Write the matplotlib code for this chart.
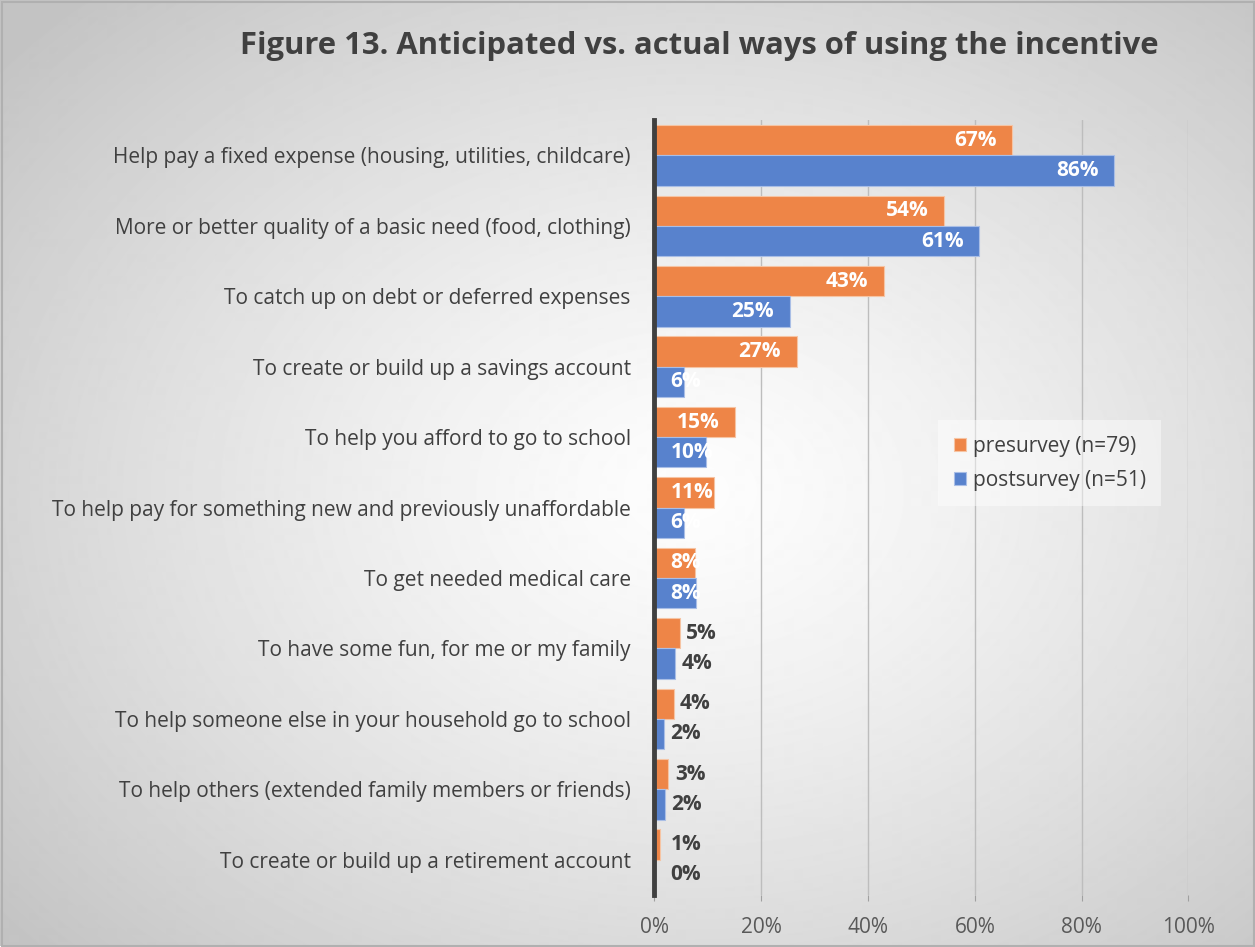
import matplotlib
matplotlib.use("Agg")

import matplotlib.pyplot as plt
import numpy as np
from matplotlib.ticker import FuncFormatter

TITLE = "Figure 13. Anticipated vs. actual ways of using the incentive"

categories = [
    "Help pay a fixed expense (housing, utilities, childcare)",
    "More or better quality of a basic need (food, clothing)",
    "To catch up on debt or deferred expenses",
    "To create or build up a savings account",
    "To help you afford to go to school",
    "To help pay for something new and previously unaffordable",
    "To get needed medical care",
    "To have some fun, for me or my family",
    "To help someone else in your household go to school",
    "To help others (extended family members or friends)",
    "To create or build up a retirement account",
]
presurvey = [67.0, 54.3, 42.9, 26.6, 15.0, 11.2, 7.6, 4.7, 3.6, 2.6, 1.0]
postsurvey = [86.1, 60.8, 25.3, 5.5, 9.7, 5.5, 7.8, 3.8, 1.8, 1.9, 0.0]
series_names = ["presurvey (n=79)", "postsurvey (n=51)"]
xticks = [0, 20, 40, 60, 80, 100]

ORANGE = "#EE8547"
BLUE = "#5882CD"
TEXT = "#404040"
FONT = "Open Sans"


def background(fig):
    h, w = 947, 1255
    yy, xx = np.mgrid[0:h, 0:w]
    d = np.sqrt(((xx - 0.55 * w) / (0.5 * w)) ** 2 + ((yy - 0.52 * h) / (0.5 * h)) ** 2)
    d = np.clip(d / np.sqrt(2), 0, 1)
    g = (253 - 57 * d ** 1.3) / 255.0
    bg = fig.add_axes([0, 0, 1, 1], zorder=-10)
    bg.imshow(g, cmap="gray", vmin=0, vmax=1, aspect="auto", interpolation="bilinear")
    bg.add_patch(plt.Rectangle((1.5, 1.5), w - 3, h - 3, fill=False, ec="#B0B0B0", lw=1.5))
    bg.set_xlim(0, w)
    bg.set_ylim(h, 0)
    bg.axis("off")


def main() -> None:
    fig = plt.figure(figsize=(12.55, 9.47), dpi=100)
    background(fig)

    ax = fig.add_axes([0.5215, 0.055, 0.4255, 0.818])
    ax.set_facecolor("none")

    y = np.arange(len(categories))
    bh = 0.43
    ax.barh(y - bh / 2, presurvey, height=bh, color=ORANGE, edgecolor="#F6C4A3",
            linewidth=0.8, label=series_names[0], zorder=3)
    ax.barh(y + bh / 2, postsurvey, height=bh, color=BLUE, edgecolor="#A9BEE6",
            linewidth=0.8, label=series_names[1], zorder=3)

    for vals, off in [(presurvey, -bh / 2), (postsurvey, bh / 2)]:
        for i, v in enumerate(vals):
            txt = f"{v:.0f}%"
            if v >= 13:
                ax.text(v - 2.9, i + off, txt, ha="right", va="center", color="white",
                        fontsize=15, fontweight="bold", family=FONT, zorder=4)
            elif v >= 5.2:
                ax.text(3.0, i + off, txt, ha="left", va="center", color="white",
                        fontsize=15, fontweight="bold", family=FONT, zorder=4)
            else:
                ax.text(max(v + 1.2, 3.0), i + off, txt, ha="left", va="center",
                        color=TEXT, fontsize=15, fontweight="bold", family=FONT, zorder=4)

    ax.set_xlim(0, 100)
    ax.set_ylim(len(categories) - 0.5, -0.5)
    ax.set_xticks(xticks)
    ax.xaxis.set_major_formatter(FuncFormatter(lambda v, _: f"{v:.0f}%"))
    ax.set_yticks(y)
    ax.set_yticklabels(categories)
    ax.grid(axis="x", color="#BDBDBD", linewidth=1.0, zorder=0)
    ax.tick_params(axis="x", length=4, color="#A0A0A0", pad=12, labelsize=15,
                   labelcolor="#595959")
    ax.tick_params(axis="y", length=0, pad=17, labelsize=15, labelcolor=TEXT)
    for lab in ax.get_xticklabels() + ax.get_yticklabels():
        lab.set_family(FONT)
    for side in ["top", "right", "bottom"]:
        ax.spines[side].set_visible(False)
    ax.spines["left"].set_color("#404040")
    ax.spines["left"].set_linewidth(3.5)
    ax.spines["left"].set_zorder(5)

    leg = ax.legend(loc="upper left", bbox_to_anchor=(0.543, 0.605), frameon=True,
                    handlelength=0.6, handleheight=0.6, handletextpad=0.3,
                    labelspacing=0.62, borderpad=0.45, borderaxespad=0,
                    prop={"family": FONT, "size": 15})
    leg.get_frame().set_facecolor("white")
    leg.get_frame().set_alpha(0.45)
    leg.get_frame().set_edgecolor("none")
    leg.get_frame().set_boxstyle("square")
    for t in leg.get_texts():
        t.set_color(TEXT)

    fig.text(0.5575, 0.951, TITLE, ha="center", va="center", fontsize=22.3,
             fontweight="bold", color=TEXT, family=FONT)

    fig.savefig("out.png", dpi=100)
    plt.close(fig)


if __name__ == "__main__":
    main()
